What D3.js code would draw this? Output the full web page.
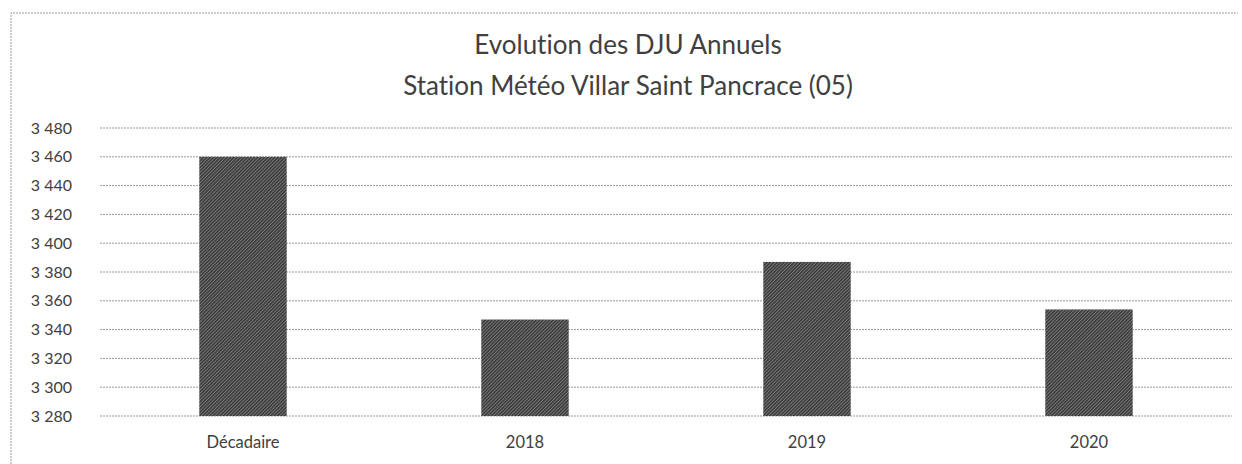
<!DOCTYPE html>
<html>
<head>
<meta charset="utf-8">
<script src="https://cdn.jsdelivr.net/npm/d3@7"></script>
<style>
  body { margin: 0; background: #fff; }
  svg { display: block; }
  text { font-variant-ligatures: none; }
</style>
</head>
<body>
<div id="chart"></div>
<script>
const categories = ['Décadaire', '2018', '2019', '2020'];
const djuValues = [3460, 3347, 3387, 3354];
const yTicks = [3280, 3300, 3320, 3340, 3360, 3380, 3400, 3420, 3440, 3460, 3480];
const titleLines = ['Evolution des DJU Annuels', 'Station Météo Villar Saint Pancrace (05)'];

const width = 1242, height = 464;
const fontFamily = 'Lato, "Open Sans", sans-serif';

const svg = d3.select('#chart')
    .append('svg')
    .attr('width', width)
    .attr('height', height);

// hatched fill like the scanned bars
const defs = svg.append('defs');
const pat = defs.append('pattern')
    .attr('id', 'hatch')
    .attr('patternUnits', 'userSpaceOnUse')
    .attr('width', 2.4)
    .attr('height', 2.4)
    .attr('patternTransform', 'rotate(45)');
pat.append('rect').attr('width', 2.4).attr('height', 2.4).attr('fill', '#7a7a7a');
pat.append('rect').attr('width', 1.4).attr('height', 2.4).attr('fill', '#363636');

// frame (left + top edges, dotted)
svg.append('path')
    .attr('d', 'M11,464 L11,13 L1238,13')
    .attr('fill', 'none')
    .attr('stroke', '#9a9a9a')
    .attr('stroke-width', 1)
    .attr('stroke-dasharray', '2,1');

const x = d3.scaleBand()
    .domain(categories)
    .range([102, 1230])
    .paddingInner(0.69)
    .paddingOuter(0.345);

const y = d3.scaleLinear()
    .domain([3280, 3480])
    .range([416, 128]);

const fr = d3.formatLocale({ decimal: ',', thousands: '\u2009', grouping: [3], currency: ['', ' €'] });
const fmt = n => fr.format(',d')(n).replace('\u2009', ' ');

// gridlines
svg.append('g')
    .selectAll('line')
    .data(yTicks)
    .enter().append('line')
    .attr('x1', 100)
    .attr('x2', 1232)
    .attr('y1', d => y(d))
    .attr('y2', d => y(d))
    .attr('stroke', '#999')
    .attr('stroke-width', 1)
    .attr('stroke-dasharray', '2,1');

// y labels
svg.append('g')
    .selectAll('text')
    .data(yTicks)
    .enter().append('text')
    .attr('x', 72)
    .attr('y', d => y(d))
    .attr('dy', '0.35em')
    .attr('text-anchor', 'end')
    .attr('font-family', fontFamily)
    .attr('font-size', 16)
    .attr('fill', '#404040')
    .text(d => fmt(d));

// bars
svg.append('g')
    .selectAll('rect')
    .data(djuValues)
    .enter().append('rect')
    .attr('x', (d, i) => x(categories[i]))
    .attr('width', x.bandwidth())
    .attr('y', d => y(d))
    .attr('height', d => y(3280) - y(d))
    .attr('fill', 'url(#hatch)');

// category labels
svg.append('g')
    .selectAll('text')
    .data(categories)
    .enter().append('text')
    .attr('x', d => x(d) + x.bandwidth() / 2)
    .attr('y', 448)
    .attr('text-anchor', 'middle')
    .attr('font-family', fontFamily)
    .attr('font-size', 16.5)
    .attr('fill', '#404040')
    .text(d => d);

// title
svg.append('g')
    .selectAll('text')
    .data(titleLines)
    .enter().append('text')
    .attr('x', 628)
    .attr('y', (d, i) => 54 + i * 41)
    .attr('text-anchor', 'middle')
    .attr('font-family', fontFamily)
    .attr('font-size', 26)
    .attr('fill', '#404040')
    .text(d => d);
</script>
</body>
</html>
